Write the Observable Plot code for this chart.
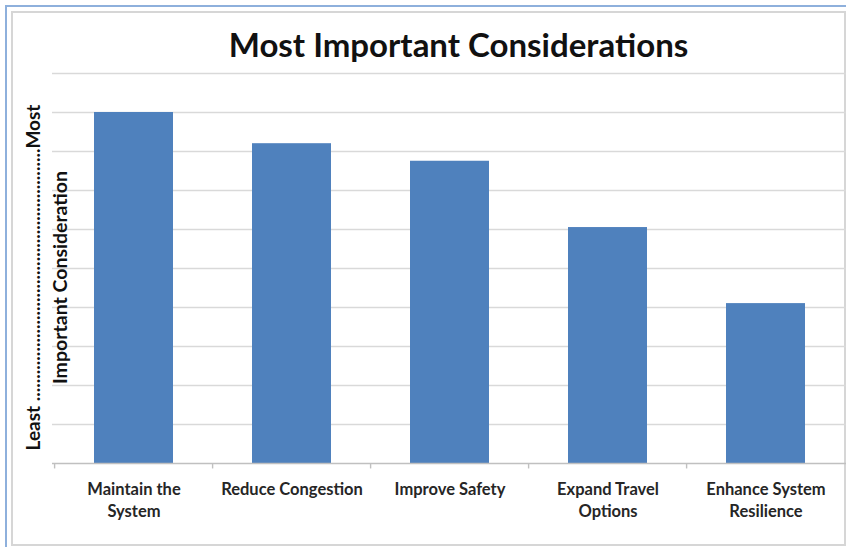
<!DOCTYPE html>
<html>
<head>
<meta charset="utf-8">
<script src="https://cdn.jsdelivr.net/npm/d3@7"></script>
<script src="https://cdn.jsdelivr.net/npm/@observablehq/plot@0.6"></script>
<style>
  html, body { margin: 0; padding: 0; background: #fff; }
  #wrap { position: relative; width: 846px; height: 547px; overflow: hidden; }
  #outer { position: absolute; left: 5px; top: 5px; width: 900px; height: 600px; border: 2px solid #8eb0dc; box-sizing: border-box; }
  #inner { position: absolute; left: 11px; top: 11px; width: 835px; height: 535px; border: 2px solid #d6d6d6; box-sizing: border-box; }
  #chart { position: absolute; left: 0; top: 0; }
</style>
</head>
<body>
<div id="wrap">
  <div id="outer"></div>
  <div id="inner"></div>
  <div id="chart"></div>
</div>
<script>
const categories = ["Maintain the System", "Reduce Congestion", "Improve Safety", "Expand Travel Options", "Enhance System Resilience"];
const tickLabels = ["Maintain the\nSystem", "Reduce Congestion", "Improve Safety", "Expand Travel\nOptions", "Enhance System\nResilience"];
const values = [9.0, 8.2, 7.75, 6.05, 4.1];
const gridTicks = [1, 2, 3, 4, 5, 6, 7, 8, 9, 10];
const title = "Most Important Considerations";
const yLabelTop = "Least " + ".".repeat(56) + "Most";
const yLabelBottom = "Important Consideration";

const data = categories.map((c, i) => ({category: c, value: values[i], label: tickLabels[i]}));

const W = 846, H = 547, mL = 52, mR = 0, mT = 73, mB = 84;
const step = (W - mL - mR) / categories.length;
const font = "Lato, 'Noto Sans', sans-serif";

const chart = Plot.plot({
  width: W,
  height: H,
  marginLeft: mL,
  marginRight: mR,
  marginTop: mT,
  marginBottom: mB,
  style: {fontFamily: font, background: "transparent", overflow: "visible"},
  x: {domain: categories, paddingInner: 0.5, paddingOuter: 0.25, axis: null},
  y: {domain: [0, 10], axis: null},
  marks: [
    Plot.ruleY(gridTicks, {y: d => d, stroke: "#d9d9d9", strokeWidth: 1.6}),
    Plot.barY(data, {x: "category", y: "value", fill: "#4f81bd"}),
    Plot.ruleY([0], {stroke: "#c0c0c0", strokeWidth: 1.6}),
    Plot.ruleX(categories, {x: d => d, dx: -step / 2, y1: 0, y2: -0.14, stroke: "#c0c0c0", strokeWidth: 1.4}),
    Plot.text(data, {x: "category", y: 0, text: "label", dy: 16, lineAnchor: "top", lineHeight: 1.33,
      fontSize: 16.5, fontWeight: "bold", fill: "#262626"}),
    Plot.text([title], {text: d => d, frameAnchor: "top", dx: 9, dy: -17, lineAnchor: "bottom", fontSize: 33, fontWeight: "bold", fill: "#111"}),
    Plot.text([yLabelTop], {text: d => d, frameAnchor: "left", textAnchor: "middle", rotate: -90, dx: -19, dy: 9, fontSize: 19, fontWeight: "bold", fill: "#111"}),
    Plot.text([yLabelBottom], {text: d => d, frameAnchor: "left", textAnchor: "middle", rotate: -90, dx: 8, dy: 9, fontSize: 19.5, fontWeight: "bold", fill: "#111"})
  ]
});
document.getElementById("chart").appendChild(chart);
</script>
</body>
</html>
